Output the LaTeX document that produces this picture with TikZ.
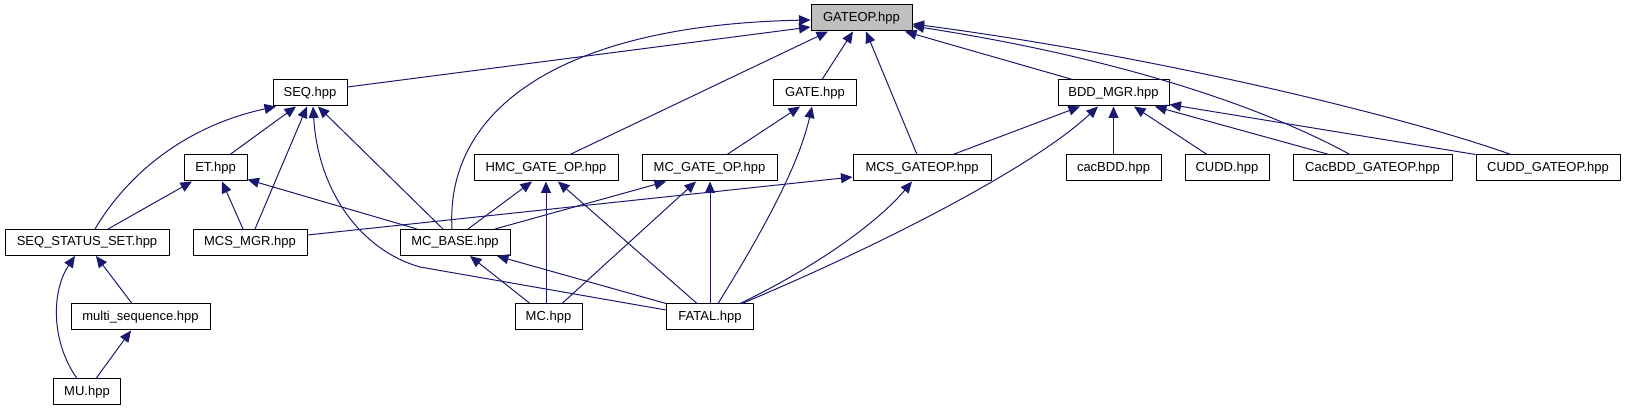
\documentclass[tikz,border=0pt]{standalone}
\usepackage{fontspec}
\setmainfont{Liberation Sans}
\usetikzlibrary{arrows.meta}

\definecolor{edgeblue}{RGB}{25,25,112}
\definecolor{rootgray}{RGB}{191,191,191}

\begin{document}
\begin{tikzpicture}[
		x=1pt, y=-1pt,
		% Style for the header file boxes
		file_box/.style={
			draw=black, line width=1pt, fill=white, inner sep=0pt,
			minimum height=26pt, font=\fontsize{13}{15}\selectfont
		},
		% Style for the include arrows
		inc/.style={
			draw=edgeblue, line width=1pt,
			-{Triangle[length=11.5pt, width=10pt]}
		}
		]
		
		\useasboundingbox (0,0) rectangle (1626,411);
		
		% ==========================================
		% 1. THE FILES, ROW BY ROW
		% ==========================================
		\node[file_box, fill=rootgray, minimum width=101pt] (gateop) at (861.5,18) {GATEOP.hpp};
		
		\node[file_box, minimum width=74pt]  (seq)    at (310,93)    {SEQ.hpp};
		\node[file_box, minimum width=83pt]  (gate)   at (815,93)    {GATE.hpp};
		\node[file_box, minimum width=111pt] (bddmgr) at (1113.5,93) {BDD\_MGR.hpp};
		
		\node[file_box, minimum width=63pt]  (et)           at (215.5,168)  {ET.hpp};
		\node[file_box, minimum width=144pt] (hmc)          at (546,168)    {HMC\_GATE\_OP.hpp};
		\node[file_box, minimum width=135pt] (mcgateop)     at (709.5,168)  {MC\_GATE\_OP.hpp};
		\node[file_box, minimum width=138pt] (mcsgateop)    at (922,168)    {MCS\_GATEOP.hpp};
		\node[file_box, minimum width=95pt]  (cacbdd)       at (1113.5,168) {cacBDD.hpp};
		\node[file_box, minimum width=84pt]  (cudd)         at (1227,168)   {CUDD.hpp};
		\node[file_box, minimum width=159pt] (cacbddgateop) at (1372.5,168) {CacBDD\_GATEOP.hpp};
		\node[file_box, minimum width=144pt] (cuddgateop)   at (1548,168)   {CUDD\_GATEOP.hpp};
		
		\node[file_box, minimum width=164pt] (seqstatus) at (87,242.5)  {SEQ\_STATUS\_SET.hpp};
		\node[file_box, minimum width=114pt] (mcsmgr)    at (250,242.5) {MCS\_MGR.hpp};
		\node[file_box, minimum width=110pt] (mcbase)    at (455,242.5) {MC\_BASE.hpp};
		
		\node[file_box, minimum width=139pt] (multiseq) at (140.5,317) {multi\_sequence.hpp};
		\node[file_box, minimum width=67pt]  (mc)       at (548.5,317) {MC.hpp};
		\node[file_box, minimum width=87pt]  (fatal)    at (710,317)   {FATAL.hpp};
		
		\node[file_box, minimum width=67pt] (mu) at (87,392) {MU.hpp};
		
		% ==========================================
		% 2. INCLUDES OF GATEOP.hpp
		% ==========================================
		\draw[inc] ([yshift=6pt]seq.east) -- ([yshift=-9pt]gateop.west);
		\draw[inc] ([xshift=-3pt]mcbase.north) .. controls (445,110) and (560,25) .. ([yshift=-2pt]gateop.west);
		\draw[inc] ([xshift=24pt]hmc.north) -- ([xshift=-33.5pt]gateop.south);
		\draw[inc] ([xshift=7pt]gate.north) -- ([xshift=-8.5pt]gateop.south);
		\draw[inc] ([xshift=-5pt]mcsgateop.north) -- ([xshift=4.5pt]gateop.south);
		\draw[inc] ([xshift=-41pt]bddmgr.north) -- ([xshift=43.5pt]gateop.south);
		\draw[inc] ([xshift=-22.5pt]cacbddgateop.north) .. controls (1250,100) and (1100,55) .. ([yshift=-8pt]gateop.east);
		\draw[inc] ([xshift=-37pt]cuddgateop.north) .. controls (1400,115) and (1150,55) .. ([yshift=-6pt]gateop.east);
		
		% ==========================================
		% 3. INCLUDES OF SEQ.hpp AND ET.hpp
		% ==========================================
		\draw[inc] ([xshift=14.5pt]et.north) -- ([xshift=-14pt]seq.south);
		\draw[inc] ([xshift=8pt]seqstatus.north) .. controls (130,170) and (190,125) .. ([xshift=-34pt]seq.south);
		\draw[inc] ([xshift=5pt]mcsmgr.north) -- ([xshift=-3pt]seq.south);
		\draw[inc] ([yshift=7pt]fatal.west) -- (420,267) .. controls (360,250) and (318,190) .. ([xshift=3pt]seq.south);
		\draw[inc] ([xshift=-12pt]mcbase.north) -- ([xshift=8pt]seq.south);
		
		\draw[inc] ([xshift=21pt]seqstatus.north) -- ([xshift=-23.5pt]et.south);
		\draw[inc] ([xshift=-7pt]mcsmgr.north) -- ([xshift=6.5pt]et.south);
		\draw[inc] ([xshift=-38pt]mcbase.north) -- ([yshift=2pt]et.south east);
		
		% ==========================================
		% 4. INCLUDES OF THE GATE OPERATORS
		% ==========================================
		\draw[inc] ([xshift=13pt]mcbase.north) -- ([xshift=-14pt]hmc.south);
		\draw[inc] (mc.north -| hmc.south) -- (hmc.south);
		\draw[inc] ([xshift=-13pt]fatal.north) -- ([xshift=12pt]hmc.south);
		
		\draw[inc] ([xshift=17.5pt]mcgateop.north) -- ([xshift=-15pt]gate.south);
		\draw[inc] ([xshift=8pt]fatal.north) .. controls (770,220) and (800,160) .. ([xshift=-3pt]gate.south);
		
		\draw[inc] ([xshift=40pt]mcbase.north) -- ([xshift=-43.5pt]mcgateop.south);
		\draw[inc] ([xshift=13.5pt]mc.north) -- ([xshift=-13.5pt]mcgateop.south);
		\draw[inc] (fatal.north) -- (fatal.north |- mcgateop.south);
		
		\draw[inc] ([yshift=7.5pt]mcsmgr.east) -- ([yshift=-9pt]mcsgateop.west);
		\draw[inc] ([xshift=30pt]fatal.north) .. controls (820,265) and (880,220) .. ([xshift=-10pt]mcsgateop.south);
		
		% ==========================================
		% 5. INCLUDES OF BDD_MGR.hpp
		% ==========================================
		\draw[inc] ([xshift=31pt]mcsgateop.north) -- ([xshift=-33.5pt]bddmgr.south);
		\draw[inc] ([xshift=32pt]fatal.north) .. controls (870,250) and (1030,170) .. ([xshift=-15.5pt]bddmgr.south);
		\draw[inc] (cacbdd.north) -- (bddmgr.south);
		\draw[inc] ([xshift=-20pt]cudd.north) -- ([xshift=20.5pt]bddmgr.south);
		\draw[inc] ([xshift=-43.5pt]cacbddgateop.north) -- ([xshift=41.5pt]bddmgr.south);
		\draw[inc] (cuddgateop.north west) -- ([yshift=2pt]bddmgr.south east);
		
		% ==========================================
		% 6. LOWER ROWS
		% ==========================================
		\draw[inc] ([xshift=-18.5pt]mc.north) -- ([xshift=15pt]mcbase.south);
		\draw[inc] (fatal.north west) -- ([xshift=42pt]mcbase.south);
		
		\draw[inc] ([xshift=-8.5pt]multiseq.north) -- ([xshift=9pt]seqstatus.south);
		\draw[inc] ([xshift=-10pt]mu.north) .. controls (50,340) and (52,290) .. ([xshift=-12pt]seqstatus.south);
		\draw[inc] ([xshift=9pt]mu.north) -- ([xshift=-9.5pt]multiseq.south);
		
	\end{tikzpicture}
\end{document}
